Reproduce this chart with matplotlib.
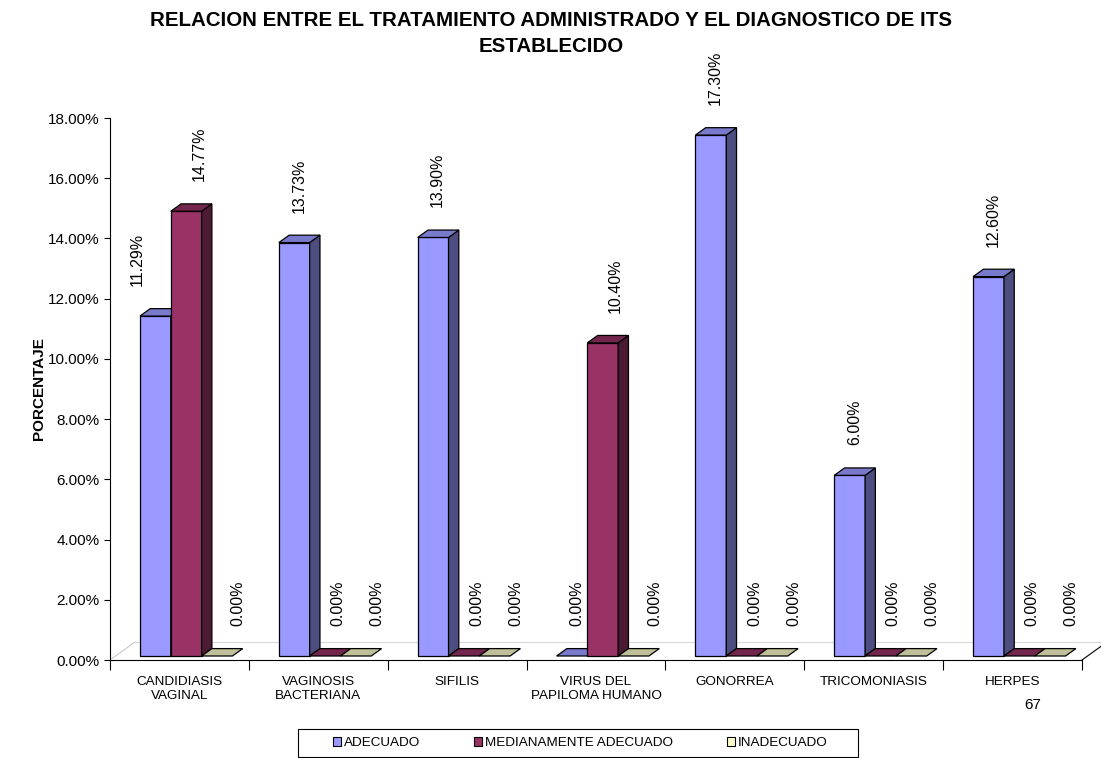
import matplotlib
matplotlib.use("Agg")
import matplotlib.pyplot as plt
from matplotlib.patches import Polygon, Patch, Rectangle
from matplotlib.ticker import FuncFormatter

plt.rcParams['font.family'] = ['Liberation Sans', 'DejaVu Sans']

# ---------------- data ----------------
categories = ["CANDIDIASIS\nVAGINAL", "VAGINOSIS\nBACTERIANA", "SIFILIS",
              "VIRUS DEL\nPAPILOMA HUMANO", "GONORREA", "TRICOMONIASIS", "HERPES"]
series_names = ["ADECUADO", "MEDIANAMENTE ADECUADO", "INADECUADO"]
adecuado = [11.29, 13.73, 13.90, 0.00, 17.30, 6.00, 12.60]
medianamente_adecuado = [14.77, 0.00, 0.00, 10.40, 0.00, 0.00, 0.00]
inadecuado = [0.00, 0.00, 0.00, 0.00, 0.00, 0.00, 0.00]
y_ticks = [0, 2, 4, 6, 8, 10, 12, 14, 16, 18]
title = "RELACION ENTRE EL TRATAMIENTO ADMINISTRADO Y EL DIAGNOSTICO DE ITS\nESTABLECIDO"
y_label = "PORCENTAJE"
page_number = "67"

# ---------------- styles ----------------
front_colors = ["#9999FF", "#993366", "#FFFFCC"]
top_colors = ["#7A7ACC", "#73264D", "#BFBF99"]
side_colors = ["#4D4D80", "#4D1A33", "#80805F"]

W, H = 1101, 758
fig = plt.figure(figsize=(W / 100, H / 100), dpi=100)
ax_left, ax_bottom, ax_w, ax_h = 110, 660, 972, 542
ax = fig.add_axes([ax_left / W, (H - ax_bottom) / H, ax_w / W, ax_h / H])
ncat = len(categories)
ax.set_xlim(0, ncat)
ax.set_ylim(y_ticks[0], y_ticks[-1])

sx = ax_w / ncat          # px per category unit
sy = ax_h / y_ticks[-1]   # px per percent


def px_x(p):
    return p / sx


def px_y(p):
    return p / sy


# floor (3D effect)
floor_dx, floor_dy = px_x(25), px_y(18)
ax.plot([0, floor_dx], [0, floor_dy], color="#C8C8C8", lw=0.8, zorder=1, clip_on=False)
ax.plot([floor_dx, ncat + floor_dx], [floor_dy, floor_dy], color="#D8D8D8", lw=0.8,
        zorder=1, clip_on=False)
ax.plot([ncat, ncat + floor_dx], [0, floor_dy], color="black", lw=0.8, zorder=1,
        clip_on=False)

series = [adecuado, medianamente_adecuado, inadecuado]
bar_w = px_x(30.8)
start = 30
base = px_y(4)
ddx, ddy = px_x(10.3), px_y(7.4)
lw = 0.9

for i in range(ncat):
    for j, vals in enumerate(series):
        v = vals[i]
        x0 = i + px_x(start + 30.8 * j)
        z = 3 + j
        top = base + v
        if v > 0:
            ax.bar(x0, v, width=bar_w, bottom=base, align="edge", color=front_colors[j],
                   edgecolor="black", linewidth=lw, zorder=z)
            ax.add_patch(Polygon([(x0 + bar_w, base), (x0 + bar_w + ddx, base + ddy),
                                  (x0 + bar_w + ddx, top + ddy), (x0 + bar_w, top)],
                                 closed=True, facecolor=side_colors[j], edgecolor="black",
                                 linewidth=lw, zorder=z))
        ax.add_patch(Polygon([(x0, top), (x0 + ddx, top + ddy),
                              (x0 + bar_w + ddx, top + ddy), (x0 + bar_w, top)],
                             closed=True, facecolor=top_colors[j], edgecolor="black",
                             linewidth=lw, zorder=z))
        # data label
        rel = 50 + 39 * j
        if j + 1 < len(series) and v > 0 and series[j + 1][i] > v:
            rel -= 23
        ax.annotate(f"{v:.2f}%", xy=(i + px_x(rel), top), xytext=(0, 30 * 0.72),
                    textcoords="offset points", rotation=90, ha="center", va="bottom",
                    fontsize=11.5, color="black", zorder=10, annotation_clip=False)

# axes styling
for s in ["top", "right"]:
    ax.spines[s].set_visible(False)
ax.spines["left"].set_linewidth(0.8)
ax.spines["bottom"].set_linewidth(0.8)
ax.set_yticks(y_ticks)
ax.yaxis.set_major_formatter(FuncFormatter(lambda v, p: f"{v:.2f}%"))
ax.tick_params(axis="y", length=4.5, width=0.8, pad=3, labelsize=11)
ax.set_xticks(range(ncat + 1))
ax.set_xticklabels([])
ax.tick_params(axis="x", which="major", length=7.2, width=0.8)
ax.set_xticks([i + 0.5 for i in range(ncat)], minor=True)
ax.set_xticklabels(categories, minor=True, fontsize=9.7, linespacing=1.2)
ax.tick_params(axis="x", which="minor", length=0, pad=11.5)
ax.set_ylabel(y_label, fontsize=11, fontweight="bold")
ax.yaxis.set_label_coords(-64 / ax_w, 0.5)

fig.suptitle(title, x=551 / W, y=1 - 11 / H, va="top", fontsize=14.8, fontweight="bold",
             linespacing=1.45)

handles = [Patch(facecolor=c, edgecolor="black", linewidth=0.8) for c in front_colors]
leg = fig.legend(handles, series_names, loc="center", bbox_to_anchor=(580 / W, 1 - 743 / H),
                 ncol=3, frameon=False, fontsize=9.7,
                 handlelength=0.6, handleheight=0.6, handletextpad=0.2, columnspacing=4,
                 borderpad=0.5)
fig.patches.append(Rectangle((298 / W, 1 - 757 / H), 560 / W, 28 / H,
                             transform=fig.transFigure, facecolor="none",
                             edgecolor="black", linewidth=0.8))

fig.text(1033 / W, 1 - 705 / H, page_number, ha="center", va="center", fontsize=11)

fig.savefig("out.png", dpi=100)
